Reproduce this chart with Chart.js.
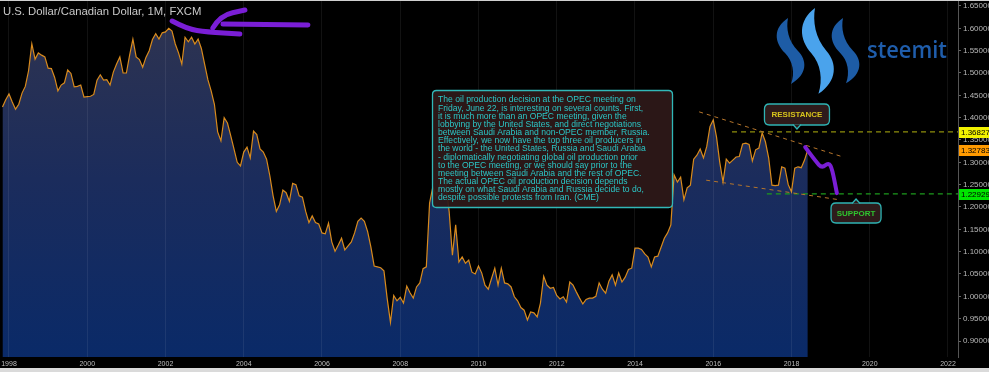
<!DOCTYPE html>
<html lang="en">
<head>
    <meta charset="UTF-8">
    <title>U.S. Dollar/Canadian Dollar, 1M</title>
    <script src="https://cdn.jsdelivr.net/npm/chart.js"></script>
    <style>
        html, body {
            margin: 0;
            padding: 0;
            background: #000;
        }
        canvas {
            display: block;
        }
    </style>
</head>
<body>
    <canvas id="fxChart" width="989" height="372"></canvas>

    <script>
        // monthly closes USD/CAD, Nov 1997 .. Jun 2018
        const startYear = 1997;
        const startMonth = 11;
        const closes = [
            1.424, 1.440,
            1.453, 1.435, 1.419, 1.430, 1.455, 1.470, 1.505, 1.565, 1.531, 1.545, 1.540, 1.536, // 1998
            1.511, 1.510, 1.490, 1.460, 1.473, 1.478, 1.507, 1.499, 1.469, 1.470, 1.473, 1.446, // 1999
            1.447, 1.448, 1.452, 1.484, 1.496, 1.484, 1.485, 1.473, 1.502, 1.520, 1.536, 1.500, // 2000
            1.500, 1.540, 1.576, 1.536, 1.530, 1.513, 1.535, 1.550, 1.575, 1.588, 1.576, 1.590, // 2001
            1.592, 1.600, 1.594, 1.565, 1.545, 1.520, 1.580, 1.570, 1.580, 1.565, 1.576, 1.555, // 2002
            1.520, 1.485, 1.460, 1.430, 1.368, 1.348, 1.400, 1.388, 1.360, 1.330, 1.300, 1.292, // 2003
            1.323, 1.334, 1.310, 1.370, 1.362, 1.330, 1.323, 1.307, 1.270, 1.225, 1.190, 1.205, // 2004
            1.238, 1.232, 1.213, 1.253, 1.250, 1.225, 1.222, 1.190, 1.165, 1.180, 1.165, 1.162, // 2005
            1.142, 1.140, 1.164, 1.122, 1.101, 1.115, 1.130, 1.104, 1.113, 1.122, 1.142, 1.168, // 2006
            1.175, 1.168, 1.145, 1.110, 1.068, 1.066, 1.064, 1.057, 0.995, 0.942, 1.002, 0.990, // 2007
            0.998, 0.985, 1.023, 1.008, 0.996, 1.021, 1.030, 1.062, 1.066, 1.209, 1.245, 1.227, // 2008
            1.245, 1.272, 1.250, 1.190, 1.092, 1.160, 1.077, 1.088, 1.074, 1.081, 1.054, 1.050, // 2009
            1.068, 1.052, 1.025, 1.016, 1.040, 1.063, 1.025, 1.063, 1.030, 1.028, 1.021, 0.999, // 2010
            0.990, 0.975, 0.969, 0.947, 0.965, 0.963, 0.954, 0.985, 1.045, 1.025, 1.018, 1.020, // 2011
            1.002, 0.994, 0.999, 0.987, 1.032, 1.025, 1.010, 0.996, 0.983, 0.993, 0.996, 0.996, // 2012
            1.000, 1.030, 1.016, 1.007, 1.034, 1.048, 1.025, 1.052, 1.032, 1.043, 1.060, 1.063, // 2013
            1.108, 1.108, 1.105, 1.095, 1.088, 1.066, 1.088, 1.090, 1.110, 1.130, 1.142, 1.160, // 2014
            1.272, 1.256, 1.267, 1.216, 1.243, 1.249, 1.307, 1.316, 1.330, 1.310, 1.335, 1.380, // 2015
            1.395, 1.357, 1.300, 1.256, 1.307, 1.298, 1.305, 1.312, 1.313, 1.341, 1.343, 1.340, // 2016
            1.303, 1.328, 1.332, 1.366, 1.346, 1.310, 1.249, 1.248, 1.249, 1.290, 1.287, 1.250, // 2017
            1.234, 1.287, 1.290, 1.288, 1.305, 1.328                                              // 2018
        ];

        const yearTicks = [1998, 2000, 2002, 2004, 2006, 2008, 2010, 2012, 2014, 2016, 2018, 2020, 2022];
        const priceTicks = [0.90, 0.95, 1.00, 1.05, 1.10, 1.15, 1.20, 1.25, 1.30, 1.35, 1.40, 1.45, 1.50, 1.55, 1.60, 1.65];

        // price boxes on the right axis
        const levelValues = [1.36827, 1.32783, 1.22929];
        const levelColors = ['#f2f200', '#ff9a00', '#00e400'];
        const levelLineStart = [2016.48, null, 2017.37];
        const levelLineColors = ['#8e8e0c', null, '#1d9a1d'];

        // drawn trend lines and marker strokes (year, price)
        const resistanceLine = [[2015.64, 1.413], [2019.32, 1.312]];
        const supportLine = [[2015.82, 1.260], [2019.24, 1.216]];
        const projection = [[2018.35, 1.334], [2018.62, 1.302], [2018.78, 1.287], [2018.95, 1.300], [2019.04, 1.285], [2019.16, 1.231]];
        const arrowStrokes = [
            [[2002.17, 1.6164], [2002.55, 1.5985], [2003.06, 1.5918], [2003.90, 1.5873]],
            [[2003.21, 1.6007], [2003.40, 1.6290], [2004.03, 1.6410]],
            [[2003.47, 1.6097], [2005.64, 1.6075]]
        ];
        const resistanceTip = [2018.14, 1.3746];
        const supportTip = [2019.65, 1.2179];

        const noteLines = [
            'The oil production decision at the OPEC meeting on',
            'Friday, June 22, is interesting on several counts. First,',
            'it is much more than an OPEC meeting, given the',
            'lobbying by the United States, and direct negotiations',
            'between Saudi Arabia and non-OPEC member, Russia.',
            'Effectively, we now have the top three oil producers in',
            'the world - the United States, Russia and Saudi Arabia',
            '- diplomatically negotiating global oil production prior',
            'to the OPEC meeting, or we should say prior to the',
            'meeting between Saudi Arabia and the rest of OPEC.',
            'The actual OPEC oil production decision depends',
            'mostly on what Saudi Arabia and Russia decide to do,',
            'despite possible protests from Iran. (CME)'
        ];

        const points = closes.map((v, i) => ({ x: startYear + (startMonth - 1 + i) / 12, y: v }));

        function roundBox(ctx, x, y, w, h, r) {
            ctx.beginPath();
            ctx.moveTo(x + r, y);
            ctx.lineTo(x + w - r, y);
            ctx.quadraticCurveTo(x + w, y, x + w, y + r);
            ctx.lineTo(x + w, y + h - r);
            ctx.quadraticCurveTo(x + w, y + h, x + w - r, y + h);
            ctx.lineTo(x + r, y + h);
            ctx.quadraticCurveTo(x, y + h, x, y + h - r);
            ctx.lineTo(x, y + r);
            ctx.quadraticCurveTo(x, y, x + r, y);
            ctx.closePath();
        }

        function smoothStroke(ctx, pts) {
            ctx.beginPath();
            ctx.moveTo(pts[0][0], pts[0][1]);
            for (let i = 1; i < pts.length - 1; i++) {
                const mx = (pts[i][0] + pts[i + 1][0]) / 2;
                const my = (pts[i][1] + pts[i + 1][1]) / 2;
                ctx.quadraticCurveTo(pts[i][0], pts[i][1], mx, my);
            }
            const last = pts[pts.length - 1];
            ctx.lineTo(last[0], last[1]);
            ctx.stroke();
        }

        function callout(ctx, tipX, tipY, w, h, below, text, color) {
            // below = box sits under the pointer tip
            const gap = 4;
            const x = tipX - w / 2;
            const y = below ? tipY + gap : tipY - gap - h;
            roundBox(ctx, x, y, w, h, 5);
            ctx.fillStyle = '#2e1b1b';
            ctx.fill();
            ctx.strokeStyle = '#2fb4b4';
            ctx.lineWidth = 1.3;
            ctx.stroke();
            ctx.beginPath();
            if (below) {
                ctx.moveTo(tipX - 4, y + 0.5);
                ctx.lineTo(tipX, tipY);
                ctx.lineTo(tipX + 4, y + 0.5);
            } else {
                ctx.moveTo(tipX - 4, y + h - 0.5);
                ctx.lineTo(tipX, tipY);
                ctx.lineTo(tipX + 4, y + h - 0.5);
            }
            ctx.fillStyle = '#2e1b1b';
            ctx.fill();
            ctx.stroke();
            ctx.fillStyle = color;
            ctx.font = "bold 8px 'Liberation Sans'";
            ctx.textAlign = 'center';
            ctx.textBaseline = 'middle';
            ctx.fillText(text, tipX, y + h / 2 + 0.5);
        }

        function swoosh(ctx, x0, y0, sx, sy, color) {
            ctx.save();
            ctx.translate(x0, y0);
            ctx.scale(sx, sy);
            ctx.beginPath();
            ctx.moveTo(0, 0);
            ctx.bezierCurveTo(-15, 10, -14, 24, -3, 35);
            ctx.bezierCurveTo(5, 43, 7, 55, 3, 66);
            ctx.bezierCurveTo(20, 56, 19, 42, 10, 33);
            ctx.bezierCurveTo(0, 23, -2, 10, 0, 0);
            ctx.closePath();
            ctx.fillStyle = color;
            ctx.fill();
            ctx.restore();
        }

        // chart.js pads the layout for half a tick label; the plot here runs edge to edge
        function noPadding(s) {
            s.paddingTop = 0;
            s.paddingBottom = 0;
            s.paddingLeft = 0;
            s.paddingRight = 0;
        }

        const backdrop = {
            id: 'backdrop',
            beforeDraw(chart) {
                const ctx = chart.ctx;
                ctx.save();
                ctx.fillStyle = '#000';
                ctx.fillRect(0, 0, chart.width, chart.height);
                ctx.restore();
            }
        };

        const overlay = {
            id: 'overlay',
            afterDraw(chart) {
                const ctx = chart.ctx;
                const xs = chart.scales.x;
                const ys = chart.scales.y;
                const area = chart.chartArea;
                const px = p => [xs.getPixelForValue(p[0]), ys.getPixelForValue(p[1])];
                ctx.save();

                // title
                ctx.fillStyle = '#c8c8c8';
                ctx.font = "11.3px 'Liberation Sans'";
                ctx.textAlign = 'left';
                ctx.textBaseline = 'alphabetic';
                ctx.fillText('U.S. Dollar/Canadian Dollar, 1M, FXCM', 3, 15, 200);

                // dashed price levels
                ctx.lineWidth = 1.2;
                ctx.setLineDash([5, 4]);
                levelValues.forEach((v, i) => {
                    if (levelLineStart[i] === null) return;
                    const y = ys.getPixelForValue(v);
                    ctx.strokeStyle = levelLineColors[i];
                    ctx.beginPath();
                    ctx.moveTo(xs.getPixelForValue(levelLineStart[i]), y);
                    ctx.lineTo(area.right, y);
                    ctx.stroke();
                });

                // trend lines
                ctx.strokeStyle = '#b5752b';
                ctx.lineWidth = 1;
                ctx.setLineDash([4, 4]);
                [resistanceLine, supportLine].forEach(line => {
                    const a = px(line[0]);
                    const b = px(line[1]);
                    ctx.beginPath();
                    ctx.moveTo(a[0], a[1]);
                    ctx.lineTo(b[0], b[1]);
                    ctx.stroke();
                });
                ctx.setLineDash([]);

                // price boxes
                ctx.font = "8px 'Liberation Sans'";
                ctx.textBaseline = 'middle';
                ctx.textAlign = 'left';
                levelValues.forEach((v, i) => {
                    const y = ys.getPixelForValue(v);
                    ctx.fillStyle = levelColors[i];
                    ctx.fillRect(area.right + 1, Math.round(y) - 5, 31, 11);
                    ctx.fillStyle = '#000';
                    ctx.fillText(v.toFixed(5), area.right + 3, y + 0.5);
                });

                // news box
                roundBox(ctx, 432.5, 90.5, 240, 117, 4);
                ctx.fillStyle = 'rgba(46, 25, 25, 0.93)';
                ctx.fill();
                ctx.strokeStyle = '#31b8b8';
                ctx.lineWidth = 1.3;
                ctx.stroke();
                ctx.fillStyle = '#2bc6c6';
                ctx.font = "8.6px 'Liberation Sans'";
                ctx.textBaseline = 'middle';
                noteLines.forEach((line, i) => {
                    ctx.fillText(line, 438, 100 + i * 8.17, 230);
                });

                // callouts
                const rt = px(resistanceTip);
                callout(ctx, rt[0], rt[1], 65, 21, false, 'RESISTANCE', '#d6c31c');
                const st = px(supportTip);
                callout(ctx, st[0], st[1], 50, 20, true, 'SUPPORT', '#2fc42f');

                // purple marker strokes
                ctx.strokeStyle = '#7a1ed6';
                ctx.lineCap = 'round';
                ctx.lineJoin = 'round';
                ctx.lineWidth = 5;
                arrowStrokes.forEach(s => smoothStroke(ctx, s.map(px)));
                ctx.lineWidth = 4;
                smoothStroke(ctx, projection.map(px));

                // steemit logo
                swoosh(ctx, 788, 18, 1.0, 1.0, '#1d5ca6');
                swoosh(ctx, 815, 8, 1.15, 1.3, '#4aa3ec');
                swoosh(ctx, 843, 18, 1.0, 0.99, '#1d5ca6');
                ctx.fillStyle = '#1f5dab';
                ctx.font = "600 23px 'Open Sans'";
                ctx.textAlign = 'left';
                ctx.textBaseline = 'alphabetic';
                ctx.fillText('steemit', 867, 58, 80);

                // frame strips
                ctx.fillStyle = '#d0d0d0';
                ctx.fillRect(0, 0, chart.width, 1);
                ctx.fillStyle = '#dadada';
                ctx.fillRect(0, 368, chart.width, 4);
                ctx.restore();
            }
        };

        const ctx = document.getElementById('fxChart').getContext('2d');
        new Chart(ctx, {
            type: 'line',
            data: {
                datasets: [{
                    data: points,
                    borderColor: '#d98b1d',
                    borderWidth: 1.2,
                    pointRadius: 0,
                    tension: 0,
                    fill: 'start',
                    backgroundColor: (c) => {
                        const area = c.chart.chartArea;
                        if (!area) return 'rgba(20, 40, 90, 1)';
                        const g = c.chart.ctx.createLinearGradient(0, area.top, 0, area.bottom);
                        g.addColorStop(0, '#30344f');
                        g.addColorStop(0.5, '#1b2c5c');
                        g.addColorStop(1, '#0a2a68');
                        return g;
                    }
                }]
            },
            options: {
                responsive: false,
                animation: false,
                devicePixelRatio: 1,
                layout: { padding: { top: 1, left: 0, right: 0, bottom: 0 } },
                plugins: {
                    legend: { display: false },
                    tooltip: { enabled: false }
                },
                scales: {
                    x: {
                        type: 'linear',
                        min: 1997.77,
                        max: 2022.256,
                        afterBuildTicks: s => { s.ticks = yearTicks.map(v => ({ value: v })); },
                        afterFit: s => { s.height = 15; noPadding(s); },
                        grid: { color: 'rgba(255,255,255,0.07)', drawTicks: false, z: 1 },
                        border: { color: '#3a3a3a' },
                        ticks: {
                            color: '#bdbdbd',
                            font: { size: 7, family: 'Liberation Sans' },
                            padding: 3,
                            maxRotation: 0,
                            autoSkip: false,
                            callback: v => String(v)
                        }
                    },
                    y: {
                        position: 'right',
                        min: 0.86418,
                        max: 1.66119,
                        afterBuildTicks: s => { s.ticks = priceTicks.map(v => ({ value: v })); },
                        afterFit: s => { s.width = 31; noPadding(s); },
                        grid: { drawOnChartArea: false, tickLength: 3, color: '#666' },
                        border: { color: '#555' },
                        ticks: {
                            color: '#b8b8b8',
                            font: { size: 8, family: 'Liberation Sans' },
                            padding: 2,
                            autoSkip: false,
                            callback: v => v.toFixed(5)
                        }
                    }
                }
            },
            plugins: [backdrop, overlay]
        });
    </script>
</body>
</html>
